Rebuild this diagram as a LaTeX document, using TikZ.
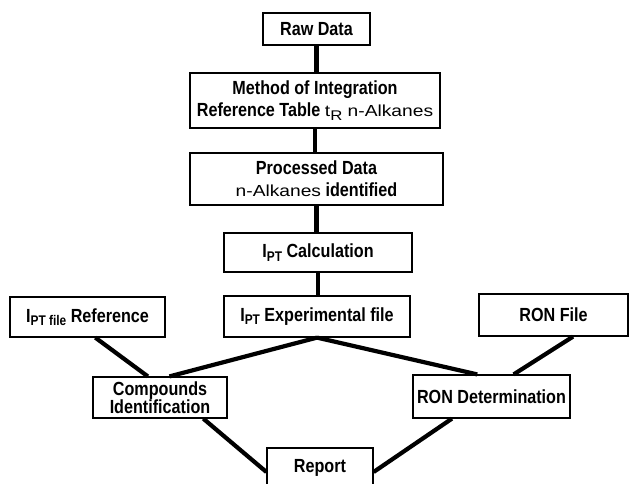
\documentclass[tikz,border=0pt]{standalone}
\usepackage{fontspec}
\setmainfont{Liberation Sans}[FakeStretch=0.85]
\newfontfamily\widefont{Liberation Sans}[FakeStretch=1.2]
\usetikzlibrary{calc}
\begin{document}
\begin{tikzpicture}[x=1pt,y=-1pt,
  box/.style={draw=black,line width=1.2pt,fill=white,inner sep=0pt,align=center,font=\fontsize{19}{22}\selectfont\bfseries},
  link/.style={line width=4.2pt}]
\useasboundingbox (0,0) rectangle (637,483);
\newcommand{\smtxt}[1]{{\widefont\fontsize{16}{18}\selectfont\mdseries #1}}
\newcommand{\lowsub}[1]{\raisebox{-3.5pt}{\fontsize{14}{14}\selectfont #1}}
\node[box,minimum width=107pt,minimum height=32pt] (raw) at (316.5,29) {Raw Data};
\node[box,minimum width=250pt,minimum height=55pt] (method) at (315,100.5) {Method of Integration\\Reference Table \smtxt{t\lowsub{\widefont R} n-Alkanes}};
\node[box,minimum width=253pt,minimum height=52pt] (proc) at (316.5,179) {Processed Data\\\smtxt{n-Alkanes} identified};
\node[box,minimum width=188pt,minimum height=39pt] (calc) at (318,252.5) {I\lowsub{PT} Calculation};
\node[box,minimum width=186pt,minimum height=41pt] (exp) at (317,316.5) {I\lowsub{PT} Experimental file};
\node[box,minimum width=155pt,minimum height=40pt] (ref) at (87.5,317) {I\lowsub{PT file} Reference};
\node[box,minimum width=149pt,minimum height=42pt] (ronf) at (553.5,315) {RON File};
\node[box,minimum width=134pt,minimum height=41pt,font=\fontsize{19}{18}\selectfont\bfseries] (comp) at (160,397.5) {Compounds\\Identification};
\node[box,minimum width=157pt,minimum height=43pt] (rond) at (491.5,396.5) {RON Determination};
\node[box,minimum width=106pt,minimum height=40pt] (report) at (320,468) {Report};
\draw[link] (raw.south) -- (raw.south |- method.north);
\draw[link] (method.south) -- (method.south |- proc.north);
\draw[link] (proc.south) -- (proc.south |- calc.north);
\draw[link] (calc.south) -- (calc.south |- exp.north);
\draw[link] ($(ref.south west)!0.55!(ref.south east)$) -- ($(comp.north west)!0.41!(comp.north east)$);
\draw[link] (exp.south) -- ($(comp.north west)!0.57!(comp.north east)$);
\draw[link] (exp.south) -- ($(rond.north west)!0.41!(rond.north east)$);
\draw[link] ($(ronf.south west)!0.63!(ronf.south east)$) -- ($(rond.north west)!0.64!(rond.north east)$);
\draw[link] ($(comp.south west)!0.82!(comp.south east)$) -- ($(report.west)+(0,4)$);
\draw[link] ($(rond.south west)!0.25!(rond.south east)$) -- ($(report.east)+(0,4)$);
\end{tikzpicture}
\end{document}
